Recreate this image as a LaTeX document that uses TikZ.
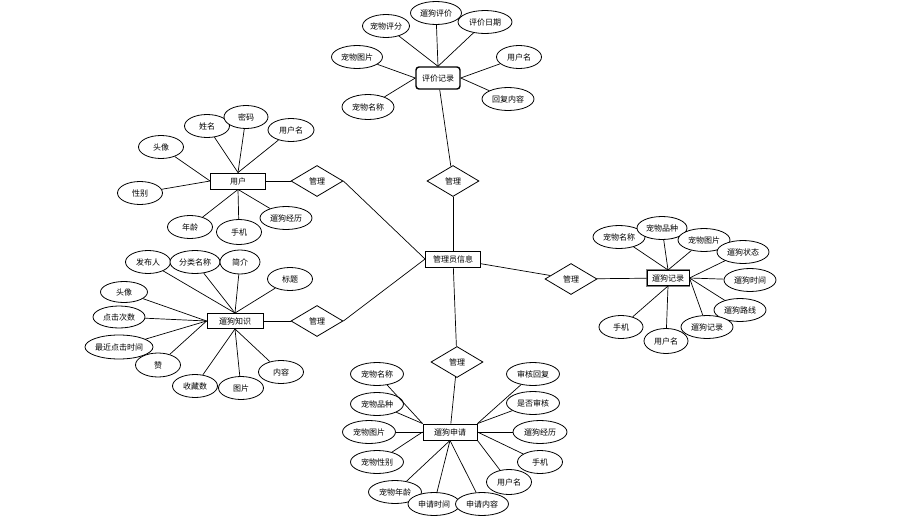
\documentclass[tikz,border=0pt]{standalone}
\usepackage{fontspec}
\setmainfont{Noto Sans CJK SC}
\usetikzlibrary{shapes.geometric}
\begin{document}
\begin{tikzpicture}[x=1pt,y=-1pt,
  font=\fontsize{8}{9.6}\selectfont,
  attr/.style={ellipse,draw,line width=0.8pt,fill=white,inner sep=0pt,minimum height=23pt,minimum width=#1},
  attr/.default=52pt,
  ent/.style={rectangle,draw,line width=0.9pt,fill=white,inner sep=0pt,minimum width=55pt,minimum height=16pt},
  rel/.style={diamond,draw,line width=0.8pt,fill=white,inner sep=0pt,minimum width=52pt,minimum height=31pt},
  link/.style={line width=0.7pt}]
\path[fill=white] (0,0) rectangle (906,525);
\useasboundingbox (0,0) rectangle (906,525);

% entities
\node[ent] (admin) at (453,259) {管理员信息};
\node[ent,rounded corners=3pt,line width=1.4pt,minimum width=44pt,minimum height=22pt] (pj) at (438,78) {评价记录};
\node[ent] (yh) at (238,181) {用户};
\node[ent,minimum width=56pt,minimum height=15pt] (zs) at (235,321) {遛狗知识};
\node[ent,minimum width=42pt,minimum height=15pt,line width=1pt,preaction={draw=gray,line width=2.6pt}] (jl) at (668,278) {遛狗记录};
\node[ent,minimum width=54pt] (sq) at (450,432) {遛狗申请};

% relations
\node[rel] (r1) at (453,181) {管理};
\node[rel] (r2) at (317,181) {管理};
\node[rel] (r3) at (317,321) {管理};
\node[rel] (r4) at (571,279) {管理};
\node[rel] (r5) at (457,362) {管理};

% 评价记录 attributes
\node[attr=47pt] (p1) at (386,26) {宠物评分};
\node[attr=51pt] (p2) at (436,13) {遛狗评价};
\node[attr=54pt] (p3) at (485,22) {评价日期};
\node[attr=51pt] (p4) at (357,57) {宠物图片};
\node[attr=45pt] (p5) at (519,57) {用户名};
\node[attr=52pt,minimum height=25pt] (p6) at (368,107) {宠物名称};
\node[attr=52pt] (p7) at (508,99) {回复内容};

% 用户 attributes
\node[attr=45pt] (u1) at (161,147) {头像};
\node[attr=45pt] (u2) at (207,126) {姓名};
\node[attr=44pt] (u3) at (246,117) {密码};
\node[attr=46pt] (u4) at (291,130) {用户名};
\node[attr=45pt] (u5) at (140,193) {性别};
\node[attr=45pt] (u6) at (190,227) {年龄};
\node[attr=45pt,minimum height=25pt] (u7) at (239,232) {手机};
\node[attr=52pt] (u8) at (286,218) {遛狗经历};

% 遛狗知识 attributes
\node[attr=45pt] (k1) at (148,262) {发布人};
\node[attr=50pt] (k2) at (195,262) {分类名称};
\node[attr=40pt,minimum height=24pt] (k3) at (240,262) {简介};
\node[attr=45pt] (k4) at (290,279) {标题};
\node[attr=47pt,minimum height=21pt] (k5) at (124,292) {头像};
\node[attr=52pt,minimum height=22pt] (k6) at (119,317) {点击次数};
\node[attr=68pt,minimum height=24pt] (k7) at (119,347) {最近点击时间};
\node[attr=45pt,minimum height=24pt] (k8) at (158,365) {赞};
\node[attr=45pt] (k9) at (195,386) {收藏数};
\node[attr=45pt] (k10) at (241,388) {图片};
\node[attr=45pt] (k11) at (281,372) {内容};

% 遛狗记录 attributes
\node[attr=52pt] (j1) at (619,237) {宠物名称};
\node[attr=50pt] (j2) at (662,228) {宠物品种};
\node[attr=52pt] (j3) at (704,240) {宠物图片};
\node[attr=52pt] (j4) at (743,252) {遛狗状态};
\node[attr=52pt] (j5) at (750,280) {遛狗时间};
\node[attr=52pt] (j6) at (740,310) {遛狗路线};
\node[attr=52pt] (j7) at (707,327) {遛狗记录};
\node[attr=44pt,minimum height=25pt] (j8) at (666,341) {用户名};
\node[attr=44pt] (j9) at (621,327) {手机};

% 遛狗申请 attributes
\node[attr=53pt] (s1) at (377,374) {宠物名称};
\node[attr=53pt] (s2) at (377,404) {宠物品种};
\node[attr=53pt] (s3) at (369,432) {宠物图片};
\node[attr=53pt] (s4) at (377,462) {宠物性别};
\node[attr=53pt] (s5) at (395,492) {宠物年龄};
\node[attr=52pt] (s6) at (434,504) {申请时间};
\node[attr=53pt] (s7) at (482,504) {申请内容};
\node[attr=45pt,minimum height=25pt] (s8) at (509,482) {用户名};
\node[attr=45pt] (s9) at (540,462) {手机};
\node[attr=54pt] (s10) at (540,432) {遛狗经历};
\node[attr=53pt] (s11) at (533,403) {是否审核};
\node[attr=53pt] (s12) at (533,374) {审核回复};

% connectors: central
\draw[link] (admin) -- (r1);
\draw[link] (r1) -- (pj);
\draw[link] (admin.west) -- (r2.east);
\draw[link] (r2) -- (yh);
\draw[link] (admin.west) -- (r3.east);
\draw[link] (r3) -- (zs);
\draw[link] (admin) -- (r4);
\draw[link] (r4) -- (jl);
\draw[link] (admin) -- (r5);
\draw[link] (r5) -- (sq);

% 评价记录
\foreach \a in {p1,p2,p3} \draw[link] (\a) -- (pj.north);
\foreach \a in {p4,p6} \draw[link] (\a) -- (pj.west);
\foreach \a in {p5,p7} \draw[link] (\a) -- (pj.east);

% 用户
\foreach \a in {u2,u3,u4} \draw[link] (\a) -- (yh.north);
\foreach \a in {u1,u5} \draw[link] (\a) -- (yh.west);
\foreach \a in {u6,u7,u8} \draw[link] (\a) -- (yh.south);

% 遛狗知识
\foreach \a in {k1,k2,k3,k4} \draw[link] (\a) -- (zs.north);
\foreach \a in {k5,k6,k7,k8} \draw[link] (\a) -- (zs.west);
\foreach \a in {k9,k10,k11} \draw[link] (\a) -- (zs.south);

% 遛狗记录
\foreach \a in {j1,j2,j3} \draw[link] (\a) -- (jl.north);
\foreach \a in {j4,j5,j6,j7} \draw[link] (\a) -- (jl.east);
\foreach \a in {j8,j9} \draw[link] (\a) -- (jl.south);

% 遛狗申请
\foreach \a in {s1,s2} \draw[link] (\a) -- (sq.north west);
\foreach \a in {s3,s4} \draw[link] (\a) -- (sq.west);
\foreach \a in {s5,s6,s7} \draw[link] (\a) -- (sq.south);
\foreach \a in {s11,s12} \draw[link] (\a) -- (sq.north east);
\foreach \a in {s9,s10} \draw[link] (\a) -- (sq.east);
\draw[link] (s8) -- (sq.south east);
\end{tikzpicture}
\end{document}
